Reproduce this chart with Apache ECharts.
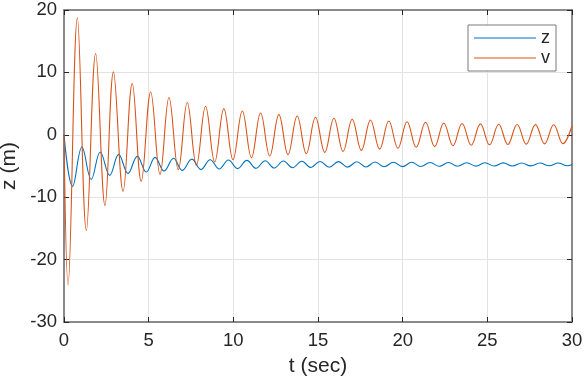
<!DOCTYPE html>
<html>
<head>
<meta charset="utf-8">
<script src="https://cdn.jsdelivr.net/npm/echarts@6/dist/echarts.min.js"></script>
<style>
html,body{margin:0;padding:0;background:#fff;}
#c{width:586px;height:379px;}
</style>
</head>
<body>
<div id="c"></div>
<script>
// z(t): extremes (start, alternating minima/maxima, end)
var zTimes = [0, 0.51, 1.06, 1.61, 2.14, 2.70, 3.23, 3.78, 4.33, 4.86, 5.38, 5.91, 6.47, 6.98,
  7.55, 8.09, 8.63, 9.17, 9.71, 10.25, 10.80, 11.34, 11.88, 12.42, 12.96, 13.50, 14.04, 14.58,
  15.12, 15.67, 16.21, 16.75, 17.29, 17.83, 18.37, 18.91, 19.45, 19.99, 20.53, 21.07, 21.62, 22.16,
  22.70, 23.24, 23.78, 24.32, 24.86, 25.40, 25.94, 26.48, 27.03, 27.57, 28.11, 28.65, 29.19, 29.73, 30];
var zValues = [0, -8.27, -1.95, -7.14, -2.76, -6.50, -3.13, -6.18, -3.45, -5.97, -3.61, -5.81, -3.77, -5.70,
  -3.90, -5.55, -3.99, -5.48, -4.05, -5.42, -4.10, -5.37, -4.15, -5.32, -4.20, -5.28, -4.23, -5.24,
  -4.27, -5.21, -4.30, -5.18, -4.33, -5.15, -4.36, -5.12, -4.39, -5.10, -4.41, -5.07, -4.43, -5.05,
  -4.45, -5.03, -4.47, -5.02, -4.48, -5.00, -4.50, -4.99, -4.51, -4.98, -4.52, -4.97, -4.53, -4.96, -4.75];

// v(t): extremes (start, alternating troughs/peaks, end)
var vTimes = [0, 0.24, 0.79, 1.32, 1.87, 2.42, 2.92, 3.49, 4.03, 4.56, 5.12, 5.67, 6.20, 6.75,
  7.28, 7.82, 8.36, 8.90, 9.44, 9.98, 10.53, 11.07, 11.61, 12.15, 12.69, 13.23, 13.77, 14.31,
  14.85, 15.40, 15.94, 16.48, 17.02, 17.56, 18.10, 18.64, 19.18, 19.72, 20.26, 20.80, 21.35, 21.89,
  22.43, 22.97, 23.51, 24.05, 24.59, 25.13, 25.67, 26.21, 26.76, 27.30, 27.84, 28.38, 28.92, 29.46, 30];
var vValues = [0, -24.05, 18.75, -15.33, 13.03, -11.32, 10.08, -9.07, 8.22, -7.46, 6.87, -6.34, 5.97, -5.59,
  5.17, -4.90, 4.57, -4.36, 4.20, -3.98, 3.82, -3.66, 3.50, -3.40, 3.24, -3.18, 3.02, -3.02,
  2.81, -2.81, 2.65, -2.65, 2.49, -2.49, 2.38, -2.30, 2.20, -2.15, 2.10, -2.00, 2.00, -1.90,
  1.90, -1.75, 1.82, -1.68, 1.75, -1.60, 1.70, -1.55, 1.66, -1.50, 1.63, -1.45, 1.60, -1.42, 1.45];

var seriesNames = ['z', 'v'];
var xTicks = {min: 0, max: 30, interval: 5};
var yTicks = {min: -30, max: 20, interval: 10};

function pairs(ts, vs) {
  var out = [];
  for (var i = 0; i < ts.length; i++) out.push([ts[i], vs[i]]);
  return out;
}

var FONT = '"Liberation Sans", Arial, Helvetica, sans-serif';
var TXT = '#262626';
var AXC = '#8a8a8a';

function xAx(pos, main) {
  return {
    type: 'value', position: pos, min: xTicks.min, max: xTicks.max, interval: xTicks.interval,
    axisLine: {show: true, onZero: false, lineStyle: {color: AXC, width: 2}},
    axisTick: {show: true, inside: true, length: 5, lineStyle: {color: TXT, width: 1}},
    axisLabel: {show: main, fontSize: 18.5, color: TXT, fontFamily: FONT, margin: 9},
    splitLine: {show: main, lineStyle: {color: '#e3e3e3', width: 1}},
    name: main ? 't (sec)' : '', nameLocation: 'middle', nameGap: 34,
    nameTextStyle: {fontSize: 21, color: TXT, fontFamily: FONT}
  };
}
function yAx(pos, main) {
  return {
    type: 'value', position: pos, min: yTicks.min, max: yTicks.max, interval: yTicks.interval,
    axisLine: {show: true, onZero: false, lineStyle: {color: AXC, width: 2}},
    axisTick: {show: true, inside: true, length: 5, lineStyle: {color: TXT, width: 1}},
    axisLabel: {show: main, fontSize: 18.5, color: TXT, fontFamily: FONT, margin: 7},
    splitLine: {show: main, lineStyle: {color: '#e3e3e3', width: 1}},
    name: main ? 'z (m)' : '', nameLocation: 'middle', nameGap: 41,
    nameTextStyle: {fontSize: 21, color: TXT, fontFamily: FONT}
  };
}

var chart = echarts.init(document.getElementById('c'), null, {renderer: 'canvas'});
chart.setOption({
  animation: false,
  backgroundColor: '#fff',
  grid: {left: 64, right: 14, top: 10, bottom: 57, containLabel: false, outerBoundsMode: 'none'},
  xAxis: [xAx('bottom', true), xAx('top', false)],
  yAxis: [yAx('left', true), yAx('right', false)],
  legend: {
    data: seriesNames,
    orient: 'vertical',
    left: 468, top: 25,
    icon: 'rect', itemWidth: 62, itemHeight: 1.2, itemGap: 2,
    padding: [4, 6, 4, 6],
    borderColor: '#7a7a7a', borderWidth: 1, backgroundColor: '#fff',
    textStyle: {fontSize: 18, color: TXT, fontFamily: FONT, padding: [0, 0, 0, 0]}
  },
  series: [
    {name: seriesNames[0], type: 'line', data: pairs(zTimes, zValues), symbol: 'none', smooth: 0.4,
     color: '#0072BD', lineStyle: {width: 1.1, color: '#0072BD'}, xAxisIndex: 0, yAxisIndex: 0},
    {name: seriesNames[1], type: 'line', data: pairs(vTimes, vValues), symbol: 'none', smooth: 0.4,
     color: '#D95319', lineStyle: {width: 1.1, color: '#D95319'}, xAxisIndex: 0, yAxisIndex: 0}
  ]
});
</script>
</body>
</html>
